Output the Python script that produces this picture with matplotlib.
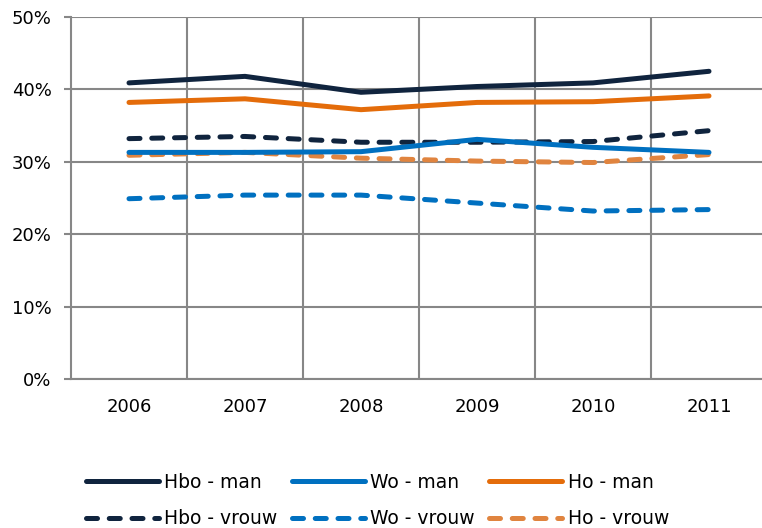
import matplotlib.pyplot as plt
from matplotlib.ticker import PercentFormatter

# data (share, %)
years = ["2006", "2007", "2008", "2009", "2010", "2011"]
hbo_man = [40.9, 41.8, 39.6, 40.4, 40.9, 42.5]
hbo_vrouw = [33.2, 33.5, 32.7, 32.7, 32.8, 34.3]
wo_man = [31.3, 31.3, 31.4, 33.1, 32.0, 31.3]
wo_vrouw = [24.9, 25.4, 25.4, 24.3, 23.2, 23.4]
ho_man = [38.2, 38.7, 37.2, 38.2, 38.3, 39.1]
ho_vrouw = [30.9, 31.3, 30.5, 30.1, 29.9, 31.0]

navy = "#10243e"
blue = "#0070c0"
orange = "#e46c0a"
light_orange = "#e0843f"
grey = "#878787"

plt.rcParams["font.family"] = ["Verdana", "DejaVu Sans"]
plt.rcParams["font.size"] = 13

W, H = 762, 528
fig = plt.figure(figsize=(W / 100, H / 100), dpi=100)
# plot area runs past the right edge of the picture, as in the reference
ax = fig.add_axes([71 / W, 1 - 379 / H, 696 / W, 362 / H])

x = list(range(len(years)))
lw = 3.6
dash = dict(linestyle=(0, (2.2, 2.35)), dash_capstyle="round")

series = [
    ("Hbo - man", hbo_man, navy, {}),
    ("Hbo - vrouw", hbo_vrouw, navy, dash),
    ("Wo - man", wo_man, blue, {}),
    ("Wo - vrouw", wo_vrouw, blue, dash),
    ("Ho - man", ho_man, orange, {}),
    ("Ho - vrouw", ho_vrouw, light_orange, dash),
]
for label, vals, col, style in series:
    z = 3 if style else 4
    ax.plot(x, vals, color=col, lw=lw, label=label, zorder=z,
            solid_capstyle="round", solid_joinstyle="round", **style)

ax.set_xlim(-0.5, len(years) - 0.5)
ax.set_ylim(0, 50)
ax.set_yticks(range(0, 51, 10))
ax.yaxis.set_major_formatter(PercentFormatter(decimals=0))
ax.set_xticks(x)
ax.set_xticklabels(years)
ax.set_xticks([i + 0.5 for i in x[:-1]], minor=True)

ax.grid(axis="y", color=grey, lw=1.5)
ax.grid(axis="x", which="minor", color=grey, lw=1.5)
ax.set_axisbelow(True)

for s in ["top", "right"]:
    ax.spines[s].set_visible(False)
for s in ["left", "bottom"]:
    ax.spines[s].set_color(grey)
    ax.spines[s].set_linewidth(1.5)

ax.tick_params(axis="y", length=5, width=1.5, color=grey, pad=9)
ax.tick_params(axis="x", which="both", length=0, pad=14)

fig.legend(loc="lower left", bbox_to_anchor=(78 / W, -8 / H), ncol=3,
           frameon=False, handlelength=3.9, handletextpad=0.3,
           columnspacing=0.75, labelspacing=0.95, borderaxespad=0.0,
           fontsize=13.5)

fig.savefig("out.png", dpi=100)
